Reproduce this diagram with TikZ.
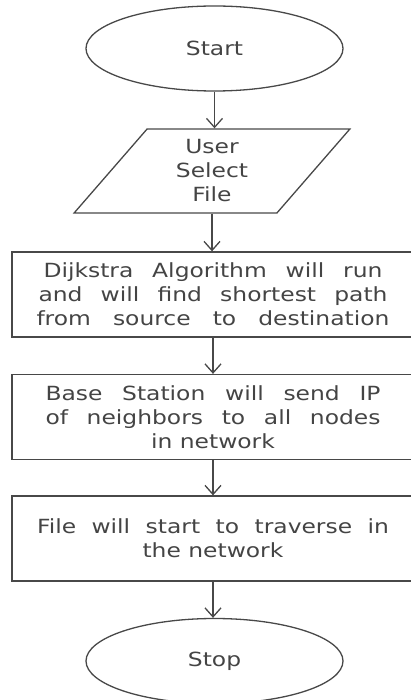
\documentclass[tikz,border=0pt]{standalone}
\usepackage{fontspec}
\setmainfont{DejaVu Sans}[FakeStretch=1.2]
\usetikzlibrary{shapes.geometric,arrows.meta}
\definecolor{linecol}{HTML}{484848}
\definecolor{textcol}{HTML}{444444}
\tikzset{
  every node/.style={text=textcol, font={\fontsize{19.5}{24}\selectfont}},
  flowline/.style={draw=linecol, line width=1.3pt},
  terminal/.style={flowline, ellipse, inner sep=0pt, minimum width=257pt, minimum height=85pt},
  iobox/.style={flowline, trapezium, trapezium left angle=57, trapezium right angle=123,
     trapezium stretches=true, minimum width=276pt, minimum height=84pt, inner sep=0pt, align=center},
  procbox/.style={flowline, rectangle, minimum width=402pt, minimum height=85pt, inner sep=0pt, align=center},
  conn/.style={draw=linecol, line width=1.3pt, -{Straight Barb[length=9pt,width=16pt,line width=1.3pt]}}
}
\begin{document}
\begin{tikzpicture}[x=1pt,y=-1pt]
\useasboundingbox (0,0) rectangle (410,700);
\node[terminal] (start) at (214.5,48.5) {Start};
\node[iobox] (sel) at (212,171) {User\\Select\\File};
\node[procbox] (dij) at (213,294.5) {\makebox[339pt][s]{Dijkstra Algorithm will run}\\\makebox[349pt][s]{and will find shortest path}\\\makebox[353pt][s]{from source to destination}};
\node[procbox] (base) at (213,417) {\makebox[335pt][s]{Base Station will send IP}\\\makebox[335pt][s]{of neighbors to all nodes}\\in network};
\node[procbox] (file) at (213,538.5) {\makebox[352pt][s]{File will start to traverse in}\\the network};
\node[terminal] (stop) at (214.5,661) {Stop};
\draw[conn] (start.south) -- (start.south |- sel.north);
\draw[conn] (sel.south) -- (sel.south |- dij.north);
\draw[conn] (dij.south) -- (base.north);
\draw[conn] (base.south) -- (file.north);
\draw[conn] (file.south) -- (file.south |- stop.north);
\end{tikzpicture}
\end{document}
